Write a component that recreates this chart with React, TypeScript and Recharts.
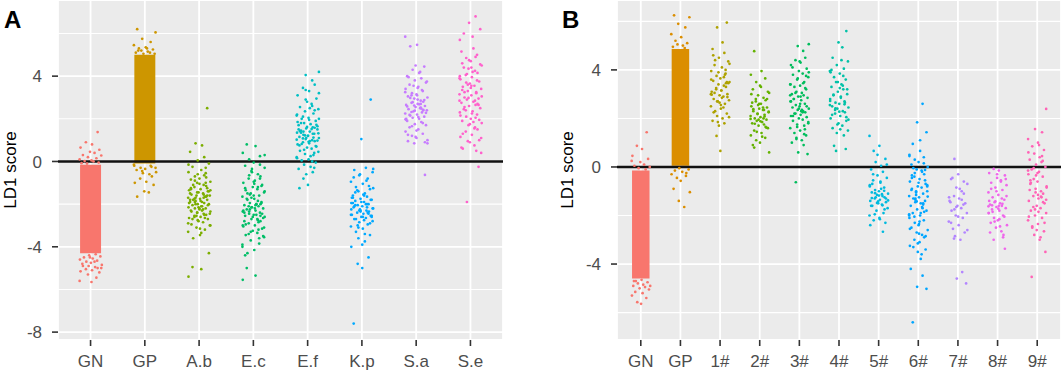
import React from 'react';
import {
  ScatterChart,
  Scatter,
  XAxis,
  YAxis,
  CartesianGrid,
  ReferenceLine,
  ReferenceArea,
} from 'recharts';

// panel A groups
const groupsA = ['GN', 'GP', 'A.b', 'E.c', 'E.f', 'K.p', 'S.a', 'S.e'];
const colorsA = ['#F8766D', '#CD9600', '#7CAE00', '#00BE67', '#00BFC4', '#00A9FF', '#C77CFF', '#FF61CC'];

// GN / GP are so dense they read as a solid block: core range + the loose points around it
const gnCoreA = [-4.3, -0.15];
const gpCoreA = [-0.1, 5.0];
const gnA = [1.38, 0.9, 0.8, 0.65, 0.55, 0.45, 0.4, 0.3, 0.28, 0.2, 0.15, 0.1, 0.05, 0.02, -0.05, -0.1, 0.0, -0.08,
  -4.35, -4.4, -4.45, -4.5, -4.55, -4.6, -4.65, -4.7, -4.75, -4.8, -4.85, -4.9, -4.95, -5.0, -5.05, -5.1, -5.15,
  -5.2, -4.5, -4.7, -4.9, -5.0, -5.3, -5.45, -5.6, -5.65];
const gpA = [6.2, 6.05, 5.75, 5.6, 5.45, 5.35, 5.3, 5.25, 5.2, 5.15, 5.1, 5.1, 5.05, 5.05, 5.2, 5.3,
  -0.2, -0.25, -0.3, -0.35, -0.4, -0.5, -0.55, -0.6, -0.7, -0.8, -0.95, -1.0, -1.1, -1.4, -1.45, -1.65, -0.3, -0.45, -0.2, -0.15];
const abA = [2.5, 0.85, 0.75, 0.45, 0.2, 0.05, -0.1, -0.25, -0.4, -0.5, -0.55, -0.7, -0.8, -0.85, -0.95, -1.0, -1.1,
  -1.15, -1.2, -1.3, -1.35, -1.4, -1.45, -1.5, -1.55, -1.6, -1.6, -1.65, -1.7, -1.75, -1.8, -1.8, -1.85, -1.9, -1.9,
  -1.95, -2.0, -2.0, -2.05, -2.1, -2.15, -2.2, -2.2, -2.25, -2.3, -2.35, -2.4, -2.45, -2.5, -2.55, -2.6, -2.65, -2.7,
  -2.8, -2.85, -2.95, -3.0, -3.1, -3.2, -3.3, -3.45, -3.6, -1.25, -1.7, -2.1, -1.5, -0.65, -2.75, -4.3, -4.95, -5.05, -5.4,
  -0.3, -0.9, -1.05, -1.25, -1.35, -1.45, -1.55, -1.65, -1.75, -1.85, -1.95, -2.05, -2.15, -2.25, -2.35, -2.45, -2.55,
  -2.65, -2.9, -3.15, -1.1, -1.6, -2.0, -2.3, -1.8, -2.5, -0.6, -1.4, -2.7, -3.35, -0.15, -1.0, -1.9, -2.2, -1.3, -3.0,
  -2.4, -1.7, -0.75, -2.6];
const ecA = [0.8, 0.72, 0.4, 0.25, 0.1, -0.05, -0.2, -0.3, -0.45, -0.6, -0.7, -0.8, -0.9, -1.0, -1.1, -1.2, -1.3,
  -1.35, -1.45, -1.5, -1.6, -1.65, -1.75, -1.8, -1.9, -1.95, -2.0, -2.05, -2.1, -2.15, -2.2, -2.25, -2.3, -2.35, -2.4,
  -2.45, -2.5, -2.55, -2.6, -2.7, -2.75, -2.8, -2.9, -3.0, -3.05, -3.15, -3.25, -3.35, -3.45, -3.55, -3.7, -3.85, -4.0,
  -4.15, -4.3, -1.15, -1.55, -2.0, -2.4, -2.85, -0.5, -3.5, -5.0, -5.35, -5.55,
  -0.15, -0.65, -0.95, -1.25, -1.4, -1.7, -1.85, -2.0, -2.1, -2.2, -2.3, -2.45, -2.6, -2.7, -2.95, -3.1, -3.3, -3.6,
  -3.9, -1.05, -1.5, -1.95, -2.25, -2.5, -2.8, -3.2, -0.35, -2.65, -1.75, -2.05, -3.0, -0.8, -2.35, -1.6, -4.4, 0.3,
  -2.15, -1.2, -2.55, -3.4];
const efA = [4.2, 4.05, 3.8, 3.6, 3.45, 3.3, 3.1, 2.95, 2.8, 2.7, 2.55, 2.45, 2.35, 2.25, 2.15, 2.05, 2.0, 1.9, 1.8,
  1.75, 1.7, 1.6, 1.55, 1.5, 1.45, 1.4, 1.35, 1.3, 1.25, 1.2, 1.15, 1.1, 1.05, 1.0, 0.95, 0.9, 0.85, 0.8, 0.7, 0.65,
  0.6, 0.5, 0.45, 0.35, 0.3, 0.2, 0.1, 0.05, -0.05, -0.15, -0.25, -0.35, -0.5, -0.6, 1.65, 1.35, 0.95, 2.2, 0.4,
  -0.8, -1.1, -1.25,
  3.2, 2.9, 2.6, 2.4, 2.1, 1.95, 1.85, 1.72, 1.62, 1.52, 1.42, 1.32, 1.22, 1.12, 1.02, 0.92, 0.82, 0.72, 0.55, 0.25,
  1.5, 1.3, 1.1, 0.98, 1.8, 2.5, 0.15, -0.3, 1.4, 1.2, 0.75, 2.0, 3.35, 0.0, 1.58, 1.08];
const kpA = [2.9, 1.05, -0.3, -0.4, -0.5, -0.65, -0.8, -0.95, -1.05, -1.2, -1.3, -1.4, -1.5, -1.6, -1.65, -1.75, -1.8,
  -1.85, -1.9, -1.95, -2.0, -2.05, -2.1, -2.15, -2.2, -2.25, -2.3, -2.35, -2.4, -2.45, -2.5, -2.55, -2.6, -2.65, -2.7,
  -2.8, -2.85, -2.95, -3.05, -3.15, -3.3, -3.45, -3.6, -3.75, -1.7, -2.0, -2.3, -2.6, -1.45, -2.75, -4.0, -4.5, -4.8,
  -5.0, -7.6,
  -0.35, -0.6, -0.9, -1.15, -1.35, -1.55, -1.7, -1.8, -1.9, -2.0, -2.1, -2.2, -2.3, -2.4, -2.5, -2.6, -2.7, -2.9,
  -3.1, -3.4, -1.95, -2.15, -2.35, -2.55, -2.05, -1.6, -2.25, -2.45, -3.0, -3.9, -0.75, -1.25];
const saA = [5.85, 5.47, 5.4, 4.45, 4.3, 4.15, 4.0, 3.9, 3.8, 3.7, 3.6, 3.5, 3.4, 3.3, 3.2, 3.15, 3.05, 3.0, 2.95,
  2.85, 2.8, 2.75, 2.7, 2.65, 2.6, 2.55, 2.5, 2.45, 2.4, 2.35, 2.3, 2.25, 2.2, 2.15, 2.1, 2.05, 2.0, 1.9, 1.85, 1.75,
  1.7, 1.6, 1.5, 1.4, 1.3, 1.2, 1.1, 0.95, 0.85, 0.85, 2.7, 2.4, 3.1, 2.9, 1.95, -0.63,
  4.5, 4.2, 3.95, 3.75, 3.55, 3.35, 3.25, 3.1, 2.98, 2.88, 2.78, 2.68, 2.58, 2.48, 2.38, 2.28, 2.18, 2.08, 1.98, 1.8,
  1.65, 1.45, 1.25, 1.0, 2.62, 2.52, 2.42, 2.32, 3.45, 2.0, 0.9, 1.15];
const seA = [6.8, 6.5, 6.2, 6.0, 5.85, 5.7, 5.0, 4.85, 4.7, 4.6, 4.5, 4.35, 4.25, 4.15, 4.05, 3.95, 3.85, 3.75, 3.65,
  3.55, 3.5, 3.4, 3.3, 3.25, 3.15, 3.1, 3.0, 2.95, 2.9, 2.8, 2.75, 2.65, 2.6, 2.5, 2.45, 2.35, 2.3, 2.2, 2.1, 2.0,
  1.9, 1.8, 1.7, 1.6, 1.5, 1.4, 1.25, 1.15, 1.0, 0.9, 0.75, 0.6, 0.4, 3.6, 3.2, 2.85, 4.4, 2.55, -0.25, -1.9,
  5.3, 5.15, 4.9, 4.75, 4.55, 4.4, 4.2, 4.0, 3.8, 3.7, 3.45, 3.35, 3.05, 2.98, 2.85, 2.7, 2.4, 2.25, 2.15, 1.95,
  1.75, 1.55, 1.3, 1.1, 0.95, 0.5, 3.9, 3.55, 3.25, 2.65, 4.1, 1.85, 0.65, 2.05];

// panel B groups
const groupsB = ['GN', 'GP', '1#', '2#', '3#', '4#', '5#', '6#', '7#', '8#', '9#'];
const colorsB = ['#F8766D', '#DB8E00', '#AEA200', '#64B200', '#00BD5C', '#00C1A7', '#00BADE', '#00A6FF', '#B385FF', '#EF67EB', '#FF63B6'];

const gnCoreB = [-4.6, -0.15];
const gpCoreB = [0.05, 4.86];
const gnB = [1.43, 0.87, 0.74, 0.46, 0.33, 0.2, 0.1, 0.05, 0.0, -0.05, -0.1, 0.25,
  -4.65, -4.7, -4.75, -4.8, -4.85, -4.9, -4.95, -5.0, -5.05, -5.15, -5.2, -5.3, -5.4, -5.57, -5.64, -4.7, -4.9];
const gpB = [6.25, 6.17, 5.9, 5.75, 5.47, 5.35, 5.2, 5.1, 5.05, 5.0, 4.95, 4.9,
  -0.05, -0.1, -0.15, -0.2, -0.3, -0.37, -0.45, -0.57, -0.9, -1.04, -1.4, -1.65, -0.25];
const s1B = [5.95, 5.75, 5.13, 4.86, 4.7, 4.5, 4.35, 4.2, 4.1, 3.95, 3.85, 3.75, 3.65, 3.55, 3.5, 3.4, 3.35, 3.3,
  3.2, 3.15, 3.1, 3.0, 2.95, 2.9, 2.8, 2.75, 2.7, 2.6, 2.5, 2.4, 2.3, 2.2, 2.1, 2.0, 1.9, 1.8, 1.7, 3.45, 3.05, 2.85,
  3.6, 4.0, 1.28, 0.66,
  4.6, 4.25, 3.9, 3.7, 3.45, 3.25, 3.15, 2.98, 2.88, 2.65, 2.45, 2.25, 2.05, 1.85, 3.8, 3.0, 2.55, 4.4, 3.5, 2.7];
const s2B = [4.77, 3.95, 3.8, 3.65, 3.5, 3.35, 3.2, 3.05, 2.95, 2.85, 2.75, 2.7, 2.6, 2.5, 2.45, 2.4, 2.35, 2.3,
  2.25, 2.2, 2.15, 2.1, 2.05, 2.0, 1.95, 1.9, 1.85, 1.8, 1.75, 1.7, 1.6, 1.5, 1.4, 1.3, 1.2, 1.1, 1.0, 0.9, 0.6,
  2.55, 2.0, 1.65, 2.8,
  3.3, 3.0, 2.8, 2.6, 2.45, 2.38, 2.28, 2.18, 2.08, 1.98, 1.88, 1.78, 1.62, 1.45, 1.25, 2.65, 2.35, 1.95, 3.1, 0.8];
const s3B = [5.06, 4.98, 4.78, 4.5, 4.4, 4.3, 4.2, 4.05, 3.95, 3.85, 3.8, 3.7, 3.6, 3.5, 3.4, 3.35, 3.3, 3.2, 3.1,
  3.05, 3.0, 2.95, 2.9, 2.85, 2.8, 2.75, 2.7, 2.6, 2.55, 2.5, 2.45, 2.4, 2.35, 2.3, 2.25, 2.2, 2.15, 2.1, 2.05, 2.0,
  1.95, 1.9, 1.8, 1.75, 1.7, 1.6, 1.5, 1.4, 1.3, 1.2, 1.1, 1.0, 0.9, 0.6, 0.53, 2.8, 2.3, 3.4, 1.55, -0.63,
  4.35, 4.1, 3.9, 3.65, 3.45, 3.25, 3.05, 2.9, 2.7, 2.5, 2.4, 2.25, 2.1, 1.85, 1.65, 1.35, 2.95, 2.6, 2.2, 3.75, 1.15, 2.35];
const s4B = [5.6, 5.13, 4.93, 4.5, 4.35, 4.2, 4.05, 3.95, 3.85, 3.7, 3.6, 3.5, 3.4, 3.3, 3.2, 3.1, 3.0, 2.95, 2.9,
  2.8, 2.7, 2.65, 2.6, 2.5, 2.45, 2.4, 2.3, 2.25, 2.2, 2.1, 2.0, 1.9, 1.8, 1.7, 1.6, 1.5, 1.4, 1.3, 2.55, 3.25,
  0.87, 0.74, 0.66,
  4.4, 4.0, 3.75, 3.5, 3.2, 2.98, 2.85, 2.72, 2.58, 2.42, 2.28, 2.15, 1.95, 1.75, 3.35, 2.65, 2.35, 1.55, 3.9, 2.05];
const s5B = [1.28, 0.87, 0.66, 0.33, 0.2, 0.05, -0.1, -0.2, -0.35, -0.45, -0.55, -0.65, -0.75, -0.85, -0.95, -1.0,
  -1.05, -1.1, -1.15, -1.2, -1.25, -1.3, -1.35, -1.4, -1.45, -1.5, -1.55, -1.6, -1.7, -1.8, -1.9, -2.0, -2.1, -2.2,
  -2.3, -1.25, -0.9, -1.6, -2.67,
  0.5, 0.1, -0.3, -0.6, -0.8, -0.98, -1.08, -1.18, -1.28, -1.38, -1.48, -1.58, -1.75, -1.95, -2.15, -2.4, -1.3, -1.42,
  -1.12, -0.7];
const s6B = [2.6, 1.84, 1.43, 0.95, 0.66, 0.5, 0.4, 0.3, 0.2, 0.1, 0.0, -0.1, -0.2, -0.3, -0.4, -0.5, -0.6, -0.7,
  -0.8, -0.85, -0.9, -1.0, -1.05, -1.1, -1.2, -1.25, -1.3, -1.4, -1.45, -1.5, -1.6, -1.7, -1.75, -1.8, -1.9, -2.0,
  -2.1, -2.2, -2.3, -2.4, -2.5, -2.6, -2.7, -2.8, -2.9, -3.0, -3.1, -3.25, -3.4, -3.5, -0.15, -0.45, -0.75, -1.15,
  -1.55, -1.95, -2.35, -0.05, -0.55, -1.35, -3.79, -4.2, -4.48, -4.94, -5.02, -6.4,
  1.1, 0.45, 0.15, -0.25, -0.65, -0.95, -1.22, -1.42, -1.65, -1.85, -2.05, -2.25, -2.55, -2.85, -3.15, -3.6, -0.35,
  -0.8, -1.0, -1.5, -2.0, -2.75, -3.3, -0.12, -1.3, -1.9];
const s7B = [0.33, -0.3, -0.5, -0.7, -0.85, -1.0, -1.1, -1.2, -1.3, -1.4, -1.5, -1.6, -1.7, -1.8, -1.9, -2.0, -2.1,
  -2.25, -2.4, -2.55, -2.7, -2.85, -3.0, -1.45, -4.33, -4.6, -4.8,
  -0.45, -0.9, -1.25, -1.55, -1.75, -2.05, -2.3, -2.6, -1.65, -1.35, -0.6, -2.95];
const s8B = [-0.08, -0.15, -0.25, -0.35, -0.45, -0.55, -0.65, -0.75, -0.85, -0.95, -1.05, -1.15, -1.25, -1.35,
  -1.45, -1.5, -1.55, -1.6, -1.65, -1.7, -1.75, -1.8, -1.9, -2.0, -2.1, -2.2, -2.3, -2.4, -2.5, -2.65, -2.8, -3.0,
  -1.6, -1.4, -3.37,
  -0.3, -0.6, -0.9, -1.2, -1.42, -1.52, -1.62, -1.72, -1.85, -2.05, -2.25, -2.45, -2.7, -1.3, -1.0, -0.5, -1.58,
  -2.15, -1.9, -2.9];
const s9B = [2.39, 1.56, 1.43, 1.15, 1.0, 0.85, 0.7, 0.55, 0.4, 0.3, 0.2, 0.1, 0.0, -0.1, -0.2, -0.3, -0.4, -0.5,
  -0.6, -0.7, -0.8, -0.9, -1.0, -1.1, -1.2, -1.3, -1.4, -1.5, -1.6, -1.7, -1.8, -1.9, -2.0, -2.1, -2.2, -2.35, -2.5,
  -2.65, -2.8, -3.0, -0.95, -1.25, -0.35, -3.5, -4.53,
  0.9, 0.6, 0.25, -0.05, -0.25, -0.55, -0.85, -1.05, -1.22, -1.45, -1.65, -1.85, -2.05, -2.3, -2.6, -2.9, -0.65,
  -1.35, -1.75, 0.45, -0.15, -1.15, -2.45];

const majorTicksA = [-8, -4, 0, 4];
const minorTicksA = [-6, -2, 2, 6];
const majorTicksB = [-4, 0, 4];
const minorTicksB = [-6, -2, 2, 6];

// fixed horizontal jitter pattern (fraction of the jitter half-width)
const JITTER = [0.62, -0.41, 0.13, -0.88, 0.77, -0.05, 0.35, -0.67, 0.94, -0.23, 0.51, -0.96, 0.08, -0.52, 0.71,
  -0.31, 0.26, -0.79, 0.45, -0.12, 0.86, -0.58, 0.19, -0.93, 0.58, -0.37, 0.03, -0.72, 0.99, -0.17, 0.4];

const FONT = '"Liberation Sans", Arial, sans-serif';

type PanelProps = {
  groups: string[];
  colors: string[];
  scores: number[][];
  cores: (number[] | null)[];
  yDomain: [number, number];
  majorTicks: number[];
  minorTicks: number[];
  jitter: number;
  width: number;
  axisWidth: number;
  right: number;
};

function Panel({ groups, colors, scores, cores, yDomain, majorTicks, minorTicks, jitter, width, axisWidth, right }: PanelProps) {
  const n = groups.length;
  const xTicks = groups.map((_, i) => i + 1);
  return (
    <ScatterChart width={width} height={375} margin={{ top: 0, right, bottom: 0, left: 0 }}>
      <CartesianGrid stroke="#ffffff" strokeWidth={1.8} fill="#EBEBEB" fillOpacity={1} />
      <CartesianGrid stroke="#ffffff" strokeWidth={1.1} vertical={false} horizontalValues={minorTicks} />
      <XAxis
        type="number"
        dataKey="x"
        domain={[0.4, n + 0.6]}
        ticks={xTicks}
        interval={0}
        allowDataOverflow
        axisLine={false}
        tickSize={6}
        tickMargin={9}
        height={35}
        tickLine={{ stroke: '#333333', strokeWidth: 1.6 }}
        tick={{ fill: '#4D4D4D', fontSize: 17, fontFamily: FONT }}
        tickFormatter={(v: number) => groups[v - 1] ?? ''}
      />
      <YAxis
        type="number"
        dataKey="y"
        domain={yDomain}
        ticks={majorTicks}
        interval={0}
        allowDataOverflow
        axisLine={false}
        width={axisWidth}
        tickSize={6}
        tickMargin={10}
        tickLine={{ stroke: '#333333', strokeWidth: 1.6 }}
        tick={{ fill: '#4D4D4D', fontSize: 17, fontFamily: FONT }}
      />
      {cores.map((c, i) =>
        c ? (
          <ReferenceArea
            key={'c' + i}
            x1={i + 1 - jitter * 0.92}
            x2={i + 1 + jitter * 0.92}
            y1={c[0]}
            y2={c[1]}
            fill={colors[i]}
            fillOpacity={1}
            stroke="none"
          />
        ) : null
      )}
      {scores.map((vals, i) => {
        const pts = vals.map((y, j) => ({ x: i + 1 + JITTER[(j + i * 7) % JITTER.length] * jitter, y }));
        return (
          <Scatter
            key={groups[i]}
            data={pts}
            isAnimationActive={false}
            shape={(p: any) => <circle cx={p.cx} cy={p.cy} r={1.35} fill={colors[i]} />}
          />
        );
      })}
      <ReferenceLine y={0} stroke="#111111" strokeWidth={2.4} />
    </ScatterChart>
  );
}

export default function App() {
  return (
    <div style={{ position: 'absolute', left: 0, top: 0, width: 1062, height: 375, background: '#fff' }}>
      <div style={{ position: 'absolute', left: 0, top: 0 }}>
        <Panel
          groups={groupsA}
          colors={colorsA}
          scores={[gnA, gpA, abA, ecA, efA, kpA, saA, seA]}
          cores={[gnCoreA, gpCoreA, null, null, null, null, null, null]}
          yDomain={[-8.37, 7.57]}
          majorTicks={majorTicksA}
          minorTicks={minorTicksA}
          jitter={0.21}
          width={530}
          axisWidth={58}
          right={27}
        />
      </div>
      <div style={{ position: 'absolute', left: 530, top: 0 }}>
        <Panel
          groups={groupsB}
          colors={colorsB}
          scores={[gnB, gpB, s1B, s2B, s3B, s4B, s5B, s6B, s7B, s8B, s9B]}
          cores={[gnCoreB, gpCoreB, null, null, null, null, null, null, null, null, null]}
          yDomain={[-7.13, 6.88]}
          majorTicks={majorTicksB}
          minorTicks={minorTicksB}
          jitter={0.24}
          width={532}
          axisWidth={87}
          right={1}
        />
      </div>
      <svg width={1062} height={375} style={{ position: 'absolute', left: 0, top: 0, pointerEvents: 'none' }}>
        <text x={4} y={28} fontSize={24} fontWeight="bold" fontFamily={FONT} fill="#000">A</text>
        <text x={562} y={28} fontSize={24} fontWeight="bold" fontFamily={FONT} fill="#000">B</text>
        <text x={0} y={0} transform="translate(16,170) rotate(-90)" textAnchor="middle" fontSize={17} fontFamily={FONT} fill="#000">LD1 score</text>
        <text x={0} y={0} transform="translate(573,170) rotate(-90)" textAnchor="middle" fontSize={17} fontFamily={FONT} fill="#000">LD1 score</text>
      </svg>
    </div>
  );
}
